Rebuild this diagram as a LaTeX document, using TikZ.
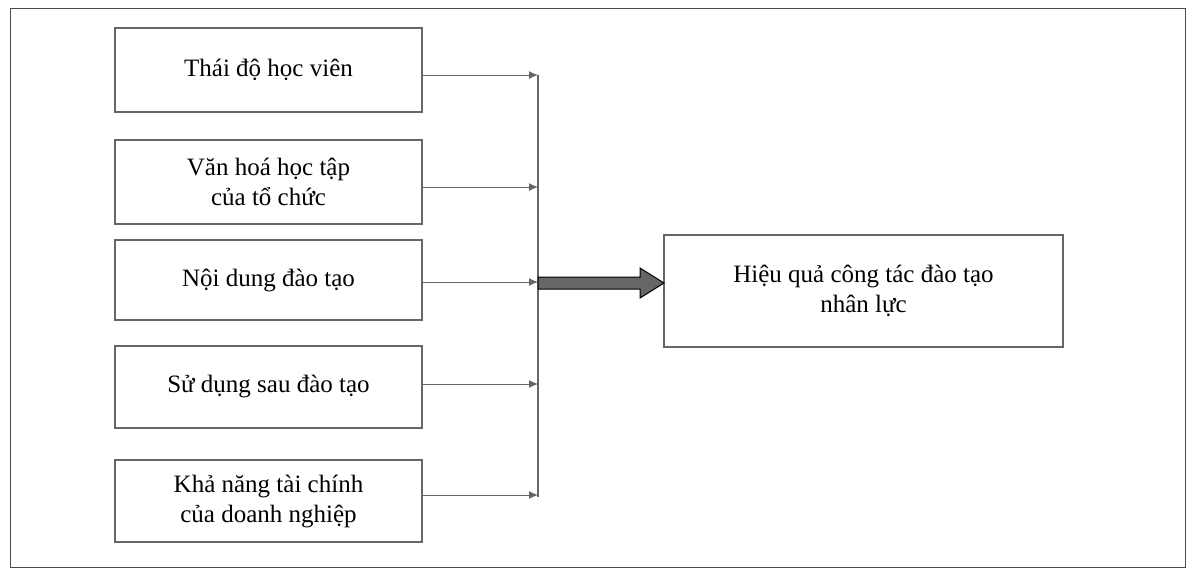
\documentclass[tikz,border=0pt]{standalone}
\usepackage{fontspec}
\setmainfont{Liberation Serif}
\begin{document}
\begin{tikzpicture}[x=1pt,y=-1pt,
 box/.style={draw=black!60,line width=1.3pt,align=center,font=\fontsize{25}{30}\selectfont},
 arr/.style={draw=black!60,line width=1pt,-{Latex[length=9pt,width=8pt]}}]
\usetikzlibrary{arrows.meta}
\useasboundingbox (0,0) rectangle (1194,576);
\draw[black!70,line width=1pt] (10,8) rectangle (1185,567);
\node[box,minimum width=307,minimum height=84] (b1) at (268.5,70) {Thái độ học viên};
\node[box,minimum width=307,minimum height=84] (b2) at (268.5,182) {Văn hoá học tập\\của tổ chức};
\node[box,minimum width=307,minimum height=80] (b3) at (268.5,280) {Nội dung đào tạo};
\node[box,minimum width=307,minimum height=82] (b4) at (268.5,387) {Sử dụng sau đào tạo};
\node[box,minimum width=307,minimum height=82] (b5) at (268.5,501) {Khả năng tài chính\\của doanh nghiệp};
\node[box,minimum width=399,minimum height=112] (r) at (863.5,291) {Hiệu quả công tác đào tạo\\nhân lực};
\coordinate (top) at (538,75);
\coordinate (bot) at (538,497);
\draw[black!60,line width=1.3pt] (top) -- (bot);
\foreach \b/\y in {b1/75,b2/187,b3/282,b4/384,b5/495}{
 \coordinate (e\b) at (538,\y);
 \draw[arr] (422,\y) -- (e\b);
}
\coordinate (m) at (538,283);
\draw[draw=black,fill=black!60,line width=1pt] (538,277) -- (640,277) -- (640,268) -- (664,283) -- (640,298) -- (640,289) -- (538,289) -- cycle;
\end{tikzpicture}
\end{document}
